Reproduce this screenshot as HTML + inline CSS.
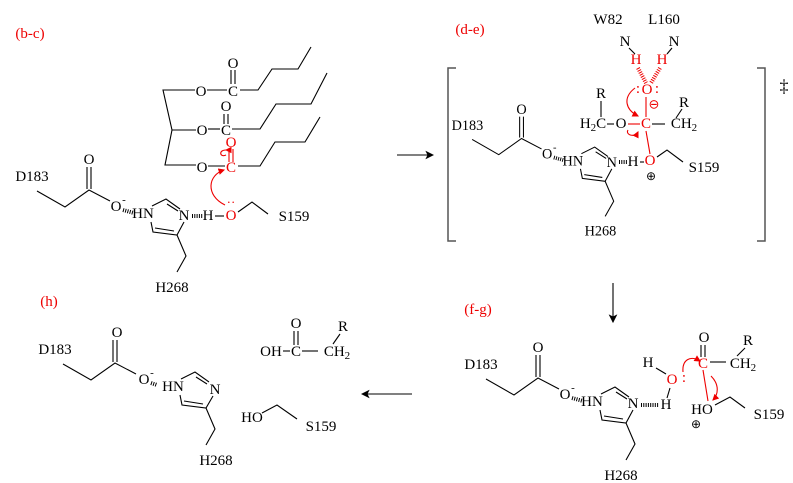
<!DOCTYPE html>
<html><head><meta charset="utf-8"><style>
html,body{margin:0;padding:0;background:#fff;}
svg{display:block;font-family:"Liberation Serif","Times New Roman",serif;}
svg text{font-family:"Liberation Serif","Times New Roman",serif;font-size:15px;fill:#000;dominant-baseline:central;text-anchor:middle;}
svg text.r{fill:#e00;}
.l{stroke:#000;stroke-width:1.1;fill:none;}
.lr{stroke:#e00;stroke-width:1.1;fill:none;}
.h{stroke:#000;stroke-width:4;stroke-dasharray:1 1.3;fill:none;}
.hr{stroke:#e00;stroke-width:4;stroke-dasharray:1 1.3;fill:none;}
</style></head><body>
<svg width="793" height="483" viewBox="0 0 793 483" xmlns="http://www.w3.org/2000/svg" font-family="Liberation Serif, serif">
<defs>
<marker id="ar" markerWidth="6" markerHeight="6" refX="5" refY="3" orient="auto"><path d="M0,0 L6,3 L0,6 z" fill="#e00"/></marker>
<marker id="ab" markerWidth="8" markerHeight="8" refX="7" refY="4" orient="auto"><path d="M0,0 L8,4 L0,8 L2,4 z" fill="#000"/></marker>
<g id="his">
<text x="32" y="177">D183</text>
<polyline class="l" points="37,191 65,207 89,190 110,201"/>
<line class="l" x1="87" y1="189" x2="87" y2="167"/><line class="l" x1="91" y1="189" x2="91" y2="167"/>
<text x="89" y="160">O</text>
<text x="116" y="207">O</text><text x="124" y="200" style="font-size:11px">-</text>
<line class="h" x1="123" y1="210" x2="134" y2="213"/>
<text x="143" y="214">HN</text>
<polyline class="l" points="152,206 166,199 180,209"/>
<line class="l" x1="167" y1="204" x2="178" y2="211"/>
<text x="184" y="216">N</text>
<polyline class="l" points="184,222 177,235 153,232 151,222"/>
<line class="l" x1="174" y1="231" x2="155" y2="228"/>
<polyline class="l" points="177,235 186,256 177,272"/>
<text x="172" y="288">H268</text>
</g>
</defs>

<!-- (b-c) -->
<text class="r" x="30" y="34">(b-c)</text>
<use href="#his"/>
<polyline class="l" points="195,90 163,90 172,130 165,165 196,165"/>
<line class="l" x1="172" y1="130" x2="196" y2="130"/>
<text x="201" y="92">O</text><line class="l" x1="207" y1="90" x2="227" y2="90"/>
<text x="233" y="92">C</text>
<line class="l" x1="231" y1="84" x2="231" y2="70"/><line class="l" x1="235" y1="84" x2="235" y2="70"/>
<text x="233" y="64">O</text>
<polyline class="l" points="240,90 258,90 272,69 298,69 311,47"/>
<text x="202" y="131">O</text><line class="l" x1="208" y1="129" x2="220" y2="129"/>
<text x="226" y="131">C</text>
<line class="l" x1="224" y1="124" x2="224" y2="114"/><line class="l" x1="228" y1="124" x2="228" y2="114"/>
<text x="226" y="107">O</text>
<polyline class="l" points="232,129 260,129 276,104 311,104 327,73"/>
<text x="202" y="168">O</text><line class="l" x1="208" y1="166" x2="225" y2="166"/>
<text class="r" x="231" y="168">C</text>
<line class="lr" x1="229" y1="162" x2="229" y2="149"/><line class="lr" x1="233" y1="162" x2="233" y2="149"/>
<text class="r" x="231" y="143">O</text>
<polyline class="l" points="238,166 260,166 275,142 305,142 320,117"/>
<line class="h" x1="192" y1="216" x2="203" y2="216"/>
<text x="208" y="216">H</text><line class="l" x1="215" y1="216" x2="224" y2="216"/>
<text class="r" x="231" y="216">O</text>
<polyline class="l" points="238,212 252,202 268,214"/>
<text x="294" y="217">S159</text>
<text class="r" x="231" y="202" style="font-size:13px">··</text>
<path class="lr" d="M225,205 C205,195 208,175 224,170" marker-end="url(#ar)"/>
<path class="lr" d="M226,150 C218,150 220,158 226,155" marker-start="url(#ar)"/>

<!-- arrow right -->
<line class="l" x1="397" y1="155" x2="433" y2="155" marker-end="url(#ab)"/>

<!-- (d-e) -->
<text class="r" x="470" y="30">(d-e)</text>
<polyline class="l" points="456,68 448,68 448,241 456,241" style="stroke:#555;stroke-width:1.5"/>
<polyline class="l" points="757,68 765,68 765,241 757,241" style="stroke:#555;stroke-width:1.5"/>
<text x="784" y="86" style="font-size:18px">‡</text>
<g transform="translate(437,-42) scale(0.95)"><use href="#his"/></g>
<line class="h" x1="619" y1="162" x2="627" y2="162"/>
<text x="633" y="162">H</text><line class="l" x1="640" y1="162" x2="644" y2="162"/>
<text class="r" x="650" y="161">O</text>
<text x="651" y="176" style="font-size:12px">⊕</text>
<polyline class="l" points="657,157 667,150 683,162"/>
<text x="704" y="168">S159</text>
<text x="608" y="20">W82</text><text x="664" y="20">L160</text>
<text x="625" y="42">N</text><text x="674" y="42">N</text>
<line class="l" x1="629" y1="48" x2="635" y2="54"/><line class="l" x1="672" y1="48" x2="667" y2="54"/>
<text class="r" x="636" y="60">H</text><text class="r" x="662" y="60">H</text>
<line class="hr" x1="638" y1="68" x2="646" y2="83"/><line class="hr" x1="660" y1="68" x2="651" y2="83"/>
<text class="r" x="647" y="90">O</text>
<text class="r" x="638" y="89">:</text><text class="r" x="657" y="89">:</text>
<text class="r" x="654" y="104" style="font-size:13px">⊖</text>
<line class="lr" x1="646" y1="97" x2="646" y2="117"/>
<text class="r" x="646" y="124">C</text>
<line class="lr" x1="646" y1="131" x2="650" y2="154"/>
<text x="621" y="124">O</text>
<line class="lr" x1="628" y1="124" x2="640" y2="124"/>
<line class="l" x1="607" y1="124" x2="614" y2="124"/>
<text x="593" y="124">H<tspan dy="4" style="font-size:11px">2</tspan><tspan dy="-4">C</tspan></text>
<text x="601" y="94">R</text><line class="l" x1="601" y1="101" x2="601" y2="117"/>
<line class="l" x1="652" y1="124" x2="665" y2="124"/>
<text x="684" y="124">CH<tspan dy="4" style="font-size:11px">2</tspan></text>
<text x="684" y="103">R</text><line class="l" x1="682" y1="109" x2="676" y2="118"/>
<path class="lr" d="M635,88 C622,98 626,110 638,116" marker-end="url(#ar)"/>
<path class="lr" d="M628,130 C625,135 635,138 638,132" marker-end="url(#ar)"/>

<!-- arrow down -->
<line class="l" x1="613" y1="283" x2="613" y2="322" marker-end="url(#ab)"/>

<!-- (f-g) -->
<text class="r" x="478" y="310">(f-g)</text>
<g transform="translate(449,188)"><use href="#his"/></g>
<line class="h" x1="641" y1="405" x2="659" y2="405"/>
<text x="666" y="405">H</text>
<line class="l" x1="667" y1="398" x2="670" y2="388"/>
<text class="r" x="672" y="380">O</text><text class="r" x="684" y="378">:</text>
<line class="l" x1="666" y1="374" x2="656" y2="368"/>
<text x="648" y="363">H</text>
<text class="r" x="703" y="364">C</text>
<line class="l" x1="701" y1="357" x2="701" y2="345"/><line class="l" x1="705" y1="357" x2="705" y2="345"/>
<text x="704" y="338">O</text>
<line class="l" x1="710" y1="362" x2="726" y2="362"/>
<text x="743" y="364">CH<tspan dy="4" style="font-size:11px">2</tspan></text>
<text x="748" y="341">R</text><line class="l" x1="745" y1="348" x2="737" y2="356"/>
<line class="lr" x1="703" y1="370" x2="708" y2="401"/>
<text x="702" y="410">HO</text>
<text x="696" y="424" style="font-size:12px">⊕</text>
<polyline class="l" points="715,405 730,397 745,408"/>
<text x="769" y="415">S159</text>
<path class="lr" d="M683,372 C682,360 690,355 700,361" marker-end="url(#ar)"/>
<path class="lr" d="M711,376 C720,385 718,395 713,400" marker-end="url(#ar)"/>

<!-- arrow left -->
<line class="l" x1="412" y1="394" x2="362" y2="394" marker-end="url(#ab)"/>

<!-- (h) -->
<text class="r" x="49" y="302">(h)</text>
<g transform="translate(23,173)">
<text x="32" y="177">D183</text>
<polyline class="l" points="40,191 68,207 92,190 113,201"/>
<line class="l" x1="90" y1="189" x2="90" y2="167"/><line class="l" x1="94" y1="189" x2="94" y2="167"/>
<text x="94" y="160">O</text>
<text x="121" y="207">O</text><text x="129" y="200" style="font-size:11px">-</text>
<line class="h" x1="128" y1="210" x2="134" y2="212"/>
<text x="150" y="214">HN</text>
<polyline class="l" points="158,206 172,199 186,209"/>
<line class="l" x1="173" y1="204" x2="184" y2="211"/>
<text x="192" y="217">N</text>
<polyline class="l" points="190,223 183,235 159,232 157,222"/>
<line class="l" x1="180" y1="231" x2="161" y2="228"/>
<polyline class="l" points="183,235 192,256 183,272"/>
<text x="193" y="288">H268</text>
</g>
<text x="271" y="352">OH</text>
<line class="l" x1="283" y1="351" x2="290" y2="351"/>
<text x="296" y="352">C</text>
<line class="l" x1="294" y1="345" x2="294" y2="331"/><line class="l" x1="298" y1="345" x2="298" y2="331"/>
<text x="296" y="324">O</text>
<line class="l" x1="302" y1="351" x2="318" y2="351"/>
<text x="337" y="352">CH<tspan dy="4" style="font-size:11px">2</tspan></text>
<text x="343" y="327">R</text><line class="l" x1="340" y1="334" x2="333" y2="344"/>
<text x="252" y="418">HO</text>
<polyline class="l" points="262,413 277,405 297,419"/>
<text x="321" y="427">S159</text>
</svg>
</body></html>
